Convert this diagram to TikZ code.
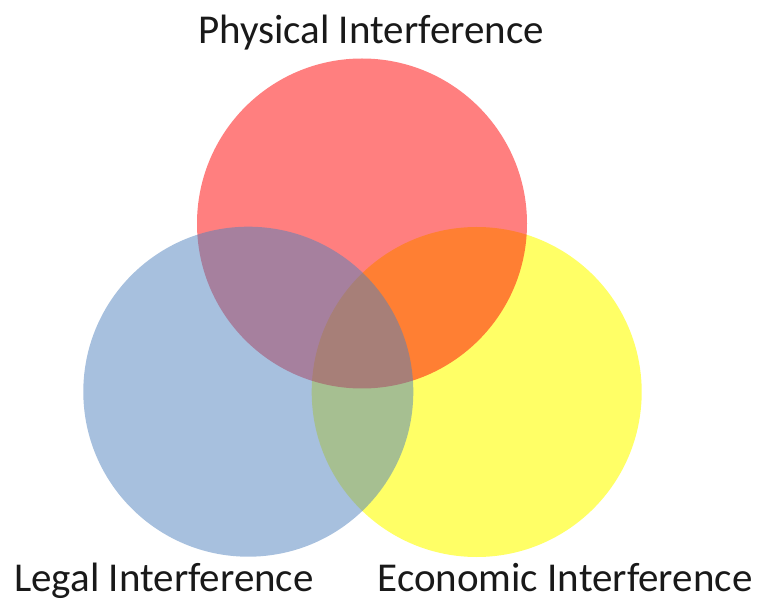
\documentclass[tikz,border=0pt]{standalone}
\usepackage{fontspec}
\setmainfont{Carlito}
\begin{document}
\begin{tikzpicture}[x=1pt,y=-1pt,
  setcircle/.style={fill=#1, draw=none},
  setlabel/.style={anchor=base, inner sep=0pt, font=\fontsize{41}{41}\selectfont, text=black!90}]
\definecolor{physred}{RGB}{255,0,0}
\definecolor{legalblue}{RGB}{79,129,189}
\definecolor{econyellow}{RGB}{255,255,0}
\useasboundingbox (0,0) rectangle (758,601);
% three overlapping sets, yellow at the back, blue in front
\path[setcircle=econyellow, fill opacity=0.6] (476.7,392) circle[radius=165];
\path[setcircle=physred, fill opacity=0.5] (362,223.5) circle[radius=165];
\path[setcircle=legalblue, fill opacity=0.5] (248.3,391.7) circle[radius=165];
% set names
\node[setlabel] (phys) at (371,44) {Physical Interference};
\node[setlabel] (legal) at (164,591) {Legal Interference};
\node[setlabel] (econ) at (565,591) {Economic Interference};
\end{tikzpicture}
\end{document}
